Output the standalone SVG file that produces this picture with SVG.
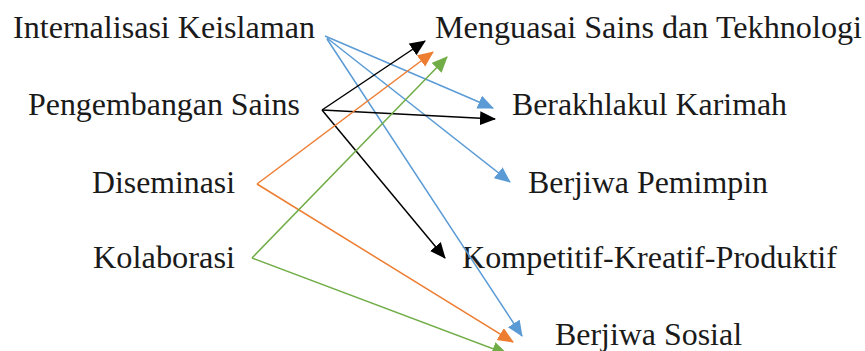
<svg xmlns="http://www.w3.org/2000/svg" width="865" height="351" viewBox="0 0 865 351">
  <style>
    .lbl { font-family: 'Liberation Serif', 'Times New Roman', Times, serif; font-size: 31px; fill: #1a1a1a; }
    .ln { fill: none; stroke-width: 1.5; }
    .blue { stroke: #5B9BD5; }
    .black { stroke: #000000; }
    .orange { stroke: #ED7D31; }
    .green { stroke: #70AD47; }
  </style>
  <defs>
    <marker id="ahBlue" markerUnits="userSpaceOnUse" markerWidth="17" markerHeight="15" refX="15" refY="7" orient="auto">
      <path d="M0,0 L16,7 L0,14 z" fill="#5B9BD5"/>
    </marker>
    <marker id="ahBlack" markerUnits="userSpaceOnUse" markerWidth="17" markerHeight="15" refX="15" refY="7" orient="auto">
      <path d="M0,0 L16,7 L0,14 z" fill="#000000"/>
    </marker>
    <marker id="ahOrange" markerUnits="userSpaceOnUse" markerWidth="17" markerHeight="15" refX="15" refY="7" orient="auto">
      <path d="M0,0 L16,7 L0,14 z" fill="#ED7D31"/>
    </marker>
    <marker id="ahGreen" markerUnits="userSpaceOnUse" markerWidth="17" markerHeight="15" refX="15" refY="7" orient="auto">
      <path d="M0,0 L16,7 L0,14 z" fill="#70AD47"/>
    </marker>
  </defs>
  <rect width="865" height="351" fill="#ffffff"/>

  <!-- source nodes -->
  <g id="internalisasi"><text class="lbl" font-family="Liberation Serif" x="13" y="38" textLength="302" lengthAdjust="spacingAndGlyphs">Internalisasi Keislaman</text></g>
  <g id="pengembangan"><text class="lbl" font-family="Liberation Serif" x="28" y="115" textLength="272" lengthAdjust="spacingAndGlyphs">Pengembangan Sains</text></g>
  <g id="diseminasi"><text class="lbl" font-family="Liberation Serif" x="92" y="193" textLength="143" lengthAdjust="spacingAndGlyphs">Diseminasi</text></g>
  <g id="kolaborasi"><text class="lbl" font-family="Liberation Serif" x="93" y="268" textLength="142" lengthAdjust="spacingAndGlyphs">Kolaborasi</text></g>

  <!-- outcome nodes -->
  <g id="menguasai"><text class="lbl" font-family="Liberation Serif" x="435" y="38" textLength="427" lengthAdjust="spacingAndGlyphs">Menguasai Sains dan Tekhnologi</text></g>
  <g id="berakhlakul"><text class="lbl" font-family="Liberation Serif" x="512" y="115" textLength="275" lengthAdjust="spacingAndGlyphs">Berakhlakul Karimah</text></g>
  <g id="pemimpin"><text class="lbl" font-family="Liberation Serif" x="528" y="193" textLength="240" lengthAdjust="spacingAndGlyphs">Berjiwa Pemimpin</text></g>
  <g id="kompetitif"><text class="lbl" font-family="Liberation Serif" x="462" y="268" textLength="375" lengthAdjust="spacingAndGlyphs">Kompetitif-Kreatif-Produktif</text></g>
  <g id="sosial"><text class="lbl" font-family="Liberation Serif" x="555" y="345" textLength="187" lengthAdjust="spacingAndGlyphs">Berjiwa Sosial</text></g>

  <!-- connectors -->
  <g id="connectors">
    <line class="ln blue" x1="325" y1="36" x2="493" y2="108" marker-end="url(#ahBlue)"/>
    <line class="ln blue" x1="327" y1="38" x2="510" y2="182" marker-end="url(#ahBlue)"/>
    <line class="ln blue" x1="327" y1="39" x2="522" y2="336" marker-end="url(#ahBlue)"/>

    <line class="ln black" x1="322" y1="110" x2="425" y2="41" marker-end="url(#ahBlack)"/>
    <line class="ln black" x1="322" y1="110" x2="495" y2="119" marker-end="url(#ahBlack)"/>
    <line class="ln black" x1="322" y1="110" x2="445" y2="258" marker-end="url(#ahBlack)"/>

    <line class="ln orange" x1="257" y1="184" x2="433" y2="52" marker-end="url(#ahOrange)"/>
    <line class="ln orange" x1="257" y1="184" x2="513" y2="342" marker-end="url(#ahOrange)"/>

    <line class="ln green" x1="252" y1="258" x2="447" y2="57" marker-end="url(#ahGreen)"/>
    <line class="ln green" x1="252" y1="258" x2="507" y2="354" marker-end="url(#ahGreen)"/>
  </g>
</svg>
